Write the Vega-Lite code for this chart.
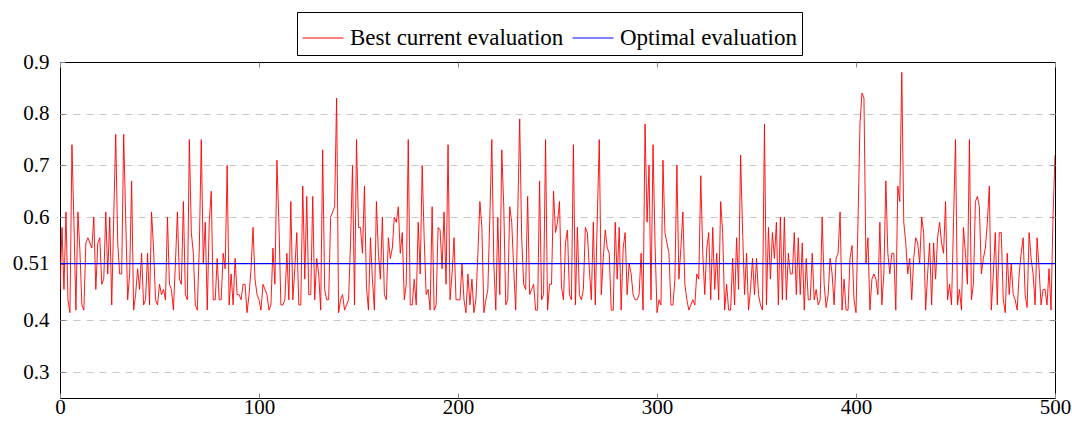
{
  "$schema": "https://vega.github.io/schema/vega-lite/v6.json",
  "width": 995,
  "height": 336,
  "autosize": {"type": "none"},
  "padding": {"left": 60, "top": 62, "right": 17, "bottom": 25},
  "background": "white",
  "config": {
    "view": {"stroke": "black", "strokeWidth": 1},
    "font": "Liberation Serif",
    "axis": {"labelFont": "Liberation Serif", "labelFontSize": 21, "labelColor": "black", "title": null, "domainColor": "black", "tickColor": "#888888", "labelFlush": false}
  },
  "datasets": {
    "best": [
{"x":0,"y":0.46},{"x":1,"y":0.58},{"x":2,"y":0.46},{"x":3,"y":0.61},{"x":4,"y":0.44},{"x":5,"y":0.415},{"x":6,"y":0.74},{"x":7,"y":0.59},{"x":8,"y":0.42},{"x":9,"y":0.61},
{"x":10,"y":0.535},{"x":11,"y":0.43},{"x":12,"y":0.42},{"x":13,"y":0.55},{"x":14,"y":0.56},{"x":15,"y":0.55},{"x":16,"y":0.54},{"x":17,"y":0.6},{"x":18,"y":0.46},{"x":19,"y":0.55},
{"x":20,"y":0.56},{"x":21,"y":0.47},{"x":22,"y":0.48},{"x":23,"y":0.61},{"x":24,"y":0.49},{"x":25,"y":0.6},{"x":26,"y":0.43},{"x":27,"y":0.6},{"x":28,"y":0.76},{"x":29,"y":0.55},
{"x":30,"y":0.49},{"x":31,"y":0.49},{"x":32,"y":0.76},{"x":33,"y":0.6},{"x":34,"y":0.44},{"x":35,"y":0.49},{"x":36,"y":0.67},{"x":37,"y":0.42},{"x":38,"y":0.45},{"x":39,"y":0.5},
{"x":40,"y":0.46},{"x":41,"y":0.53},{"x":42,"y":0.43},{"x":43,"y":0.44},{"x":44,"y":0.53},{"x":45,"y":0.43},{"x":46,"y":0.61},{"x":47,"y":0.54},{"x":48,"y":0.44},{"x":49,"y":0.43},
{"x":50,"y":0.47},{"x":51,"y":0.45},{"x":52,"y":0.46},{"x":53,"y":0.44},{"x":54,"y":0.6},{"x":55,"y":0.47},{"x":56,"y":0.46},{"x":57,"y":0.42},{"x":58,"y":0.51},{"x":59,"y":0.61},
{"x":60,"y":0.48},{"x":61,"y":0.47},{"x":62,"y":0.63},{"x":63,"y":0.45},{"x":64,"y":0.44},{"x":65,"y":0.75},{"x":66,"y":0.57},{"x":67,"y":0.53},{"x":68,"y":0.43},{"x":69,"y":0.42},
{"x":70,"y":0.54},{"x":71,"y":0.75},{"x":72,"y":0.51},{"x":73,"y":0.59},{"x":74,"y":0.42},{"x":75,"y":0.59},{"x":76,"y":0.65},{"x":77,"y":0.44},{"x":78,"y":0.44},{"x":79,"y":0.52},
{"x":80,"y":0.44},{"x":81,"y":0.44},{"x":82,"y":0.53},{"x":83,"y":0.5},{"x":84,"y":0.7},{"x":85,"y":0.43},{"x":86,"y":0.49},{"x":87,"y":0.43},{"x":88,"y":0.52},{"x":89,"y":0.45},
{"x":90,"y":0.45},{"x":91,"y":0.44},{"x":92,"y":0.47},{"x":93,"y":0.47},{"x":94,"y":0.415},{"x":95,"y":0.45},{"x":96,"y":0.5},{"x":97,"y":0.58},{"x":98,"y":0.48},{"x":99,"y":0.45},
{"x":100,"y":0.44},{"x":101,"y":0.42},{"x":102,"y":0.47},{"x":103,"y":0.46},{"x":104,"y":0.45},{"x":105,"y":0.42},{"x":106,"y":0.43},{"x":107,"y":0.54},{"x":108,"y":0.47},{"x":109,"y":0.71},
{"x":110,"y":0.59},{"x":111,"y":0.43},{"x":112,"y":0.43},{"x":113,"y":0.44},{"x":114,"y":0.53},{"x":115,"y":0.44},{"x":116,"y":0.63},{"x":117,"y":0.44},{"x":118,"y":0.5},{"x":119,"y":0.57},
{"x":120,"y":0.43},{"x":121,"y":0.43},{"x":122,"y":0.66},{"x":123,"y":0.48},{"x":124,"y":0.64},{"x":125,"y":0.45},{"x":126,"y":0.45},{"x":127,"y":0.64},{"x":128,"y":0.44},{"x":129,"y":0.52},
{"x":130,"y":0.49},{"x":131,"y":0.42},{"x":132,"y":0.73},{"x":133,"y":0.46},{"x":134,"y":0.44},{"x":135,"y":0.44},{"x":136,"y":0.6},{"x":137,"y":0.61},{"x":138,"y":0.62},{"x":139,"y":0.83},
{"x":140,"y":0.415},{"x":141,"y":0.44},{"x":142,"y":0.45},{"x":143,"y":0.42},{"x":144,"y":0.43},{"x":145,"y":0.44},{"x":146,"y":0.55},{"x":147,"y":0.7},{"x":148,"y":0.43},{"x":149,"y":0.75},
{"x":150,"y":0.58},{"x":151,"y":0.58},{"x":152,"y":0.53},{"x":153,"y":0.66},{"x":154,"y":0.465},{"x":155,"y":0.42},{"x":156,"y":0.56},{"x":157,"y":0.48},{"x":158,"y":0.42},{"x":159,"y":0.63},
{"x":160,"y":0.53},{"x":161,"y":0.48},{"x":162,"y":0.6},{"x":163,"y":0.45},{"x":164,"y":0.44},{"x":165,"y":0.56},{"x":166,"y":0.52},{"x":167,"y":0.54},{"x":168,"y":0.6},{"x":169,"y":0.59},
{"x":170,"y":0.62},{"x":171,"y":0.53},{"x":172,"y":0.57},{"x":173,"y":0.44},{"x":174,"y":0.47},{"x":175,"y":0.75},{"x":176,"y":0.43},{"x":177,"y":0.43},{"x":178,"y":0.48},{"x":179,"y":0.43},
{"x":180,"y":0.59},{"x":181,"y":0.49},{"x":182,"y":0.7},{"x":183,"y":0.56},{"x":184,"y":0.45},{"x":185,"y":0.46},{"x":186,"y":0.42},{"x":187,"y":0.62},{"x":188,"y":0.42},{"x":189,"y":0.43},
{"x":190,"y":0.58},{"x":191,"y":0.575},{"x":192,"y":0.5},{"x":193,"y":0.61},{"x":194,"y":0.47},{"x":195,"y":0.74},{"x":196,"y":0.44},{"x":197,"y":0.49},{"x":198,"y":0.56},{"x":199,"y":0.44},
{"x":200,"y":0.44},{"x":201,"y":0.44},{"x":202,"y":0.51},{"x":203,"y":0.44},{"x":204,"y":0.415},{"x":205,"y":0.49},{"x":206,"y":0.43},{"x":207,"y":0.48},{"x":208,"y":0.415},{"x":209,"y":0.44},
{"x":210,"y":0.53},{"x":211,"y":0.63},{"x":212,"y":0.58},{"x":213,"y":0.415},{"x":214,"y":0.44},{"x":215,"y":0.46},{"x":216,"y":0.6},{"x":217,"y":0.75},{"x":218,"y":0.51},{"x":219,"y":0.42},
{"x":220,"y":0.6},{"x":221,"y":0.45},{"x":222,"y":0.73},{"x":223,"y":0.62},{"x":224,"y":0.43},{"x":225,"y":0.44},{"x":226,"y":0.62},{"x":227,"y":0.59},{"x":228,"y":0.5},{"x":229,"y":0.42},
{"x":230,"y":0.6},{"x":231,"y":0.79},{"x":232,"y":0.56},{"x":233,"y":0.47},{"x":234,"y":0.46},{"x":235,"y":0.64},{"x":236,"y":0.45},{"x":237,"y":0.46},{"x":238,"y":0.47},{"x":239,"y":0.42},
{"x":240,"y":0.42},{"x":241,"y":0.67},{"x":242,"y":0.44},{"x":243,"y":0.45},{"x":244,"y":0.75},{"x":245,"y":0.42},{"x":246,"y":0.47},{"x":247,"y":0.47},{"x":248,"y":0.65},{"x":249,"y":0.57},
{"x":250,"y":0.59},{"x":251,"y":0.63},{"x":252,"y":0.465},{"x":253,"y":0.44},{"x":254,"y":0.55},{"x":255,"y":0.575},{"x":256,"y":0.45},{"x":257,"y":0.44},{"x":258,"y":0.74},{"x":259,"y":0.43},
{"x":260,"y":0.58},{"x":261,"y":0.45},{"x":262,"y":0.44},{"x":263,"y":0.46},{"x":264,"y":0.58},{"x":265,"y":0.57},{"x":266,"y":0.5},{"x":267,"y":0.44},{"x":268,"y":0.59},{"x":269,"y":0.43},
{"x":270,"y":0.6},{"x":271,"y":0.75},{"x":272,"y":0.45},{"x":273,"y":0.52},{"x":274,"y":0.575},{"x":275,"y":0.54},{"x":276,"y":0.53},{"x":277,"y":0.42},{"x":278,"y":0.42},{"x":279,"y":0.59},
{"x":280,"y":0.48},{"x":281,"y":0.58},{"x":282,"y":0.42},{"x":283,"y":0.54},{"x":284,"y":0.57},{"x":285,"y":0.45},{"x":286,"y":0.51},{"x":287,"y":0.49},{"x":288,"y":0.45},{"x":289,"y":0.44},
{"x":290,"y":0.44},{"x":291,"y":0.45},{"x":292,"y":0.53},{"x":293,"y":0.42},{"x":294,"y":0.78},{"x":295,"y":0.59},{"x":296,"y":0.7},{"x":297,"y":0.44},{"x":298,"y":0.74},{"x":299,"y":0.55},
{"x":300,"y":0.415},{"x":301,"y":0.44},{"x":302,"y":0.43},{"x":303,"y":0.71},{"x":304,"y":0.57},{"x":305,"y":0.55},{"x":306,"y":0.53},{"x":307,"y":0.43},{"x":308,"y":0.43},{"x":309,"y":0.48},
{"x":310,"y":0.7},{"x":311,"y":0.48},{"x":312,"y":0.54},{"x":313,"y":0.61},{"x":314,"y":0.47},{"x":315,"y":0.44},{"x":316,"y":0.42},{"x":317,"y":0.43},{"x":318,"y":0.44},{"x":319,"y":0.43},
{"x":320,"y":0.49},{"x":321,"y":0.48},{"x":322,"y":0.68},{"x":323,"y":0.53},{"x":324,"y":0.45},{"x":325,"y":0.54},{"x":326,"y":0.57},{"x":327,"y":0.44},{"x":328,"y":0.58},{"x":329,"y":0.46},
{"x":330,"y":0.53},{"x":331,"y":0.44},{"x":332,"y":0.63},{"x":333,"y":0.57},{"x":334,"y":0.42},{"x":335,"y":0.47},{"x":336,"y":0.42},{"x":337,"y":0.42},{"x":338,"y":0.52},{"x":339,"y":0.43},
{"x":340,"y":0.56},{"x":341,"y":0.46},{"x":342,"y":0.72},{"x":343,"y":0.575},{"x":344,"y":0.45},{"x":345,"y":0.53},{"x":346,"y":0.42},{"x":347,"y":0.46},{"x":348,"y":0.52},{"x":349,"y":0.45},
{"x":350,"y":0.52},{"x":351,"y":0.45},{"x":352,"y":0.43},{"x":353,"y":0.42},{"x":354,"y":0.78},{"x":355,"y":0.43},{"x":356,"y":0.58},{"x":357,"y":0.48},{"x":358,"y":0.57},{"x":359,"y":0.52},
{"x":360,"y":0.59},{"x":361,"y":0.43},{"x":362,"y":0.6},{"x":363,"y":0.44},{"x":364,"y":0.6},{"x":365,"y":0.44},{"x":366,"y":0.53},{"x":367,"y":0.49},{"x":368,"y":0.49},{"x":369,"y":0.57},
{"x":370,"y":0.45},{"x":371,"y":0.56},{"x":372,"y":0.45},{"x":373,"y":0.55},{"x":374,"y":0.42},{"x":375,"y":0.52},{"x":376,"y":0.44},{"x":377,"y":0.44},{"x":378,"y":0.53},{"x":379,"y":0.44},
{"x":380,"y":0.46},{"x":381,"y":0.43},{"x":382,"y":0.44},{"x":383,"y":0.6},{"x":384,"y":0.47},{"x":385,"y":0.425},{"x":386,"y":0.45},{"x":387,"y":0.52},{"x":388,"y":0.49},{"x":389,"y":0.43},
{"x":390,"y":0.52},{"x":391,"y":0.53},{"x":392,"y":0.61},{"x":393,"y":0.42},{"x":394,"y":0.48},{"x":395,"y":0.42},{"x":396,"y":0.42},{"x":397,"y":0.52},{"x":398,"y":0.545},{"x":399,"y":0.44},
{"x":400,"y":0.415},{"x":401,"y":0.59},{"x":402,"y":0.78},{"x":403,"y":0.84},{"x":404,"y":0.83},{"x":405,"y":0.51},{"x":406,"y":0.56},{"x":407,"y":0.42},{"x":408,"y":0.48},{"x":409,"y":0.49},
{"x":410,"y":0.48},{"x":411,"y":0.45},{"x":412,"y":0.59},{"x":413,"y":0.43},{"x":414,"y":0.49},{"x":415,"y":0.67},{"x":416,"y":0.53},{"x":417,"y":0.49},{"x":418,"y":0.53},{"x":419,"y":0.53},
{"x":420,"y":0.42},{"x":421,"y":0.66},{"x":422,"y":0.63},{"x":423,"y":0.88},{"x":424,"y":0.59},{"x":425,"y":0.55},{"x":426,"y":0.49},{"x":427,"y":0.52},{"x":428,"y":0.44},{"x":429,"y":0.52},
{"x":430,"y":0.56},{"x":431,"y":0.55},{"x":432,"y":0.51},{"x":433,"y":0.6},{"x":434,"y":0.57},{"x":435,"y":0.42},{"x":436,"y":0.49},{"x":437,"y":0.55},{"x":438,"y":0.43},{"x":439,"y":0.55},
{"x":440,"y":0.48},{"x":441,"y":0.56},{"x":442,"y":0.59},{"x":443,"y":0.55},{"x":444,"y":0.53},{"x":445,"y":0.63},{"x":446,"y":0.44},{"x":447,"y":0.47},{"x":448,"y":0.43},{"x":449,"y":0.59},
{"x":450,"y":0.75},{"x":451,"y":0.43},{"x":452,"y":0.46},{"x":453,"y":0.42},{"x":454,"y":0.58},{"x":455,"y":0.53},{"x":456,"y":0.47},{"x":457,"y":0.75},{"x":458,"y":0.44},{"x":459,"y":0.47},
{"x":460,"y":0.63},{"x":461,"y":0.64},{"x":462,"y":0.62},{"x":463,"y":0.49},{"x":464,"y":0.52},{"x":465,"y":0.54},{"x":466,"y":0.59},{"x":467,"y":0.66},{"x":468,"y":0.42},{"x":469,"y":0.49},
{"x":470,"y":0.57},{"x":471,"y":0.43},{"x":472,"y":0.57},{"x":473,"y":0.57},{"x":474,"y":0.44},{"x":475,"y":0.415},{"x":476,"y":0.53},{"x":477,"y":0.45},{"x":478,"y":0.51},{"x":479,"y":0.45},
{"x":480,"y":0.44},{"x":481,"y":0.42},{"x":482,"y":0.49},{"x":483,"y":0.53},{"x":484,"y":0.56},{"x":485,"y":0.45},{"x":486,"y":0.425},{"x":487,"y":0.57},{"x":488,"y":0.52},{"x":489,"y":0.49},
{"x":490,"y":0.43},{"x":491,"y":0.56},{"x":492,"y":0.5},{"x":493,"y":0.43},{"x":494,"y":0.46},{"x":495,"y":0.46},{"x":496,"y":0.43},{"x":497,"y":0.5},{"x":498,"y":0.42},{"x":499,"y":0.6},
{"x":500,"y":0.72}
    ],
    "opt": [{"series": "Optimal evaluation", "y": 0.51}]
  },
  "layer": [
    {
      "data": {"name": "best"},
      "mark": {"type": "point", "opacity": 0},
      "encoding": {
        "x": {"field": "x", "type": "quantitative",
          "scale": {"domain": [0, 500], "nice": false, "zero": false},
          "axis": {"orient": "top", "values": [0, 100, 200, 300, 400, 500], "labels": false, "grid": false, "tickSize": -5, "domain": false}},
        "y": {"field": "y", "type": "quantitative",
          "scale": {"domain": [0.25, 0.9], "nice": false, "zero": false},
          "axis": {"orient": "right", "values": [0.3, 0.4, 0.6, 0.7, 0.8], "labels": false, "grid": true, "gridColor": "#c8c8c8", "gridDash": [7, 6], "gridWidth": 1, "tickSize": -5, "domain": false}}
      }
    },
    {
      "data": {"name": "best"},
      "mark": {"type": "line", "strokeWidth": 0.9, "clip": true},
      "encoding": {
        "x": {"field": "x", "type": "quantitative",
          "axis": {"orient": "bottom", "values": [0, 100, 200, 300, 400, 500], "grid": false, "tickSize": -5, "labelPadding": 3, "domain": false}},
        "y": {"field": "y", "type": "quantitative",
          "axis": {"orient": "left", "values": [0.3, 0.4, 0.51, 0.6, 0.7, 0.8, 0.9], "format": ".2~f", "grid": false, "tickSize": -5, "labelPadding": 16, "domain": false}},
        "color": {"datum": "Best current evaluation", "type": "nominal",
          "scale": {"domain": ["Best current evaluation", "Optimal evaluation"], "range": ["#ff0000", "#0000ff"]},
          "legend": {"orient": "none", "legendX": 237, "legendY": -50, "direction": "horizontal", "title": null,
            "symbolType": "stroke", "symbolSize": 1681, "symbolStrokeWidth": 1,
            "labelFont": "Liberation Serif", "labelFontSize": 23, "labelColor": "black", "labelLimit": 400,
            "strokeColor": "black", "fillColor": "white", "padding": 5, "columnPadding": 6, "labelOffset": 6}}
      }
    },
    {
      "data": {"name": "opt"},
      "mark": {"type": "rule", "strokeWidth": 1.1, "stroke": "#0000ff", "color": "#0000ff"},
      "encoding": {
        "y": {"field": "y", "type": "quantitative", "axis": null}
      }
    }
  ],
  "resolve": {"axis": {"x": "independent", "y": "independent"}}
}
